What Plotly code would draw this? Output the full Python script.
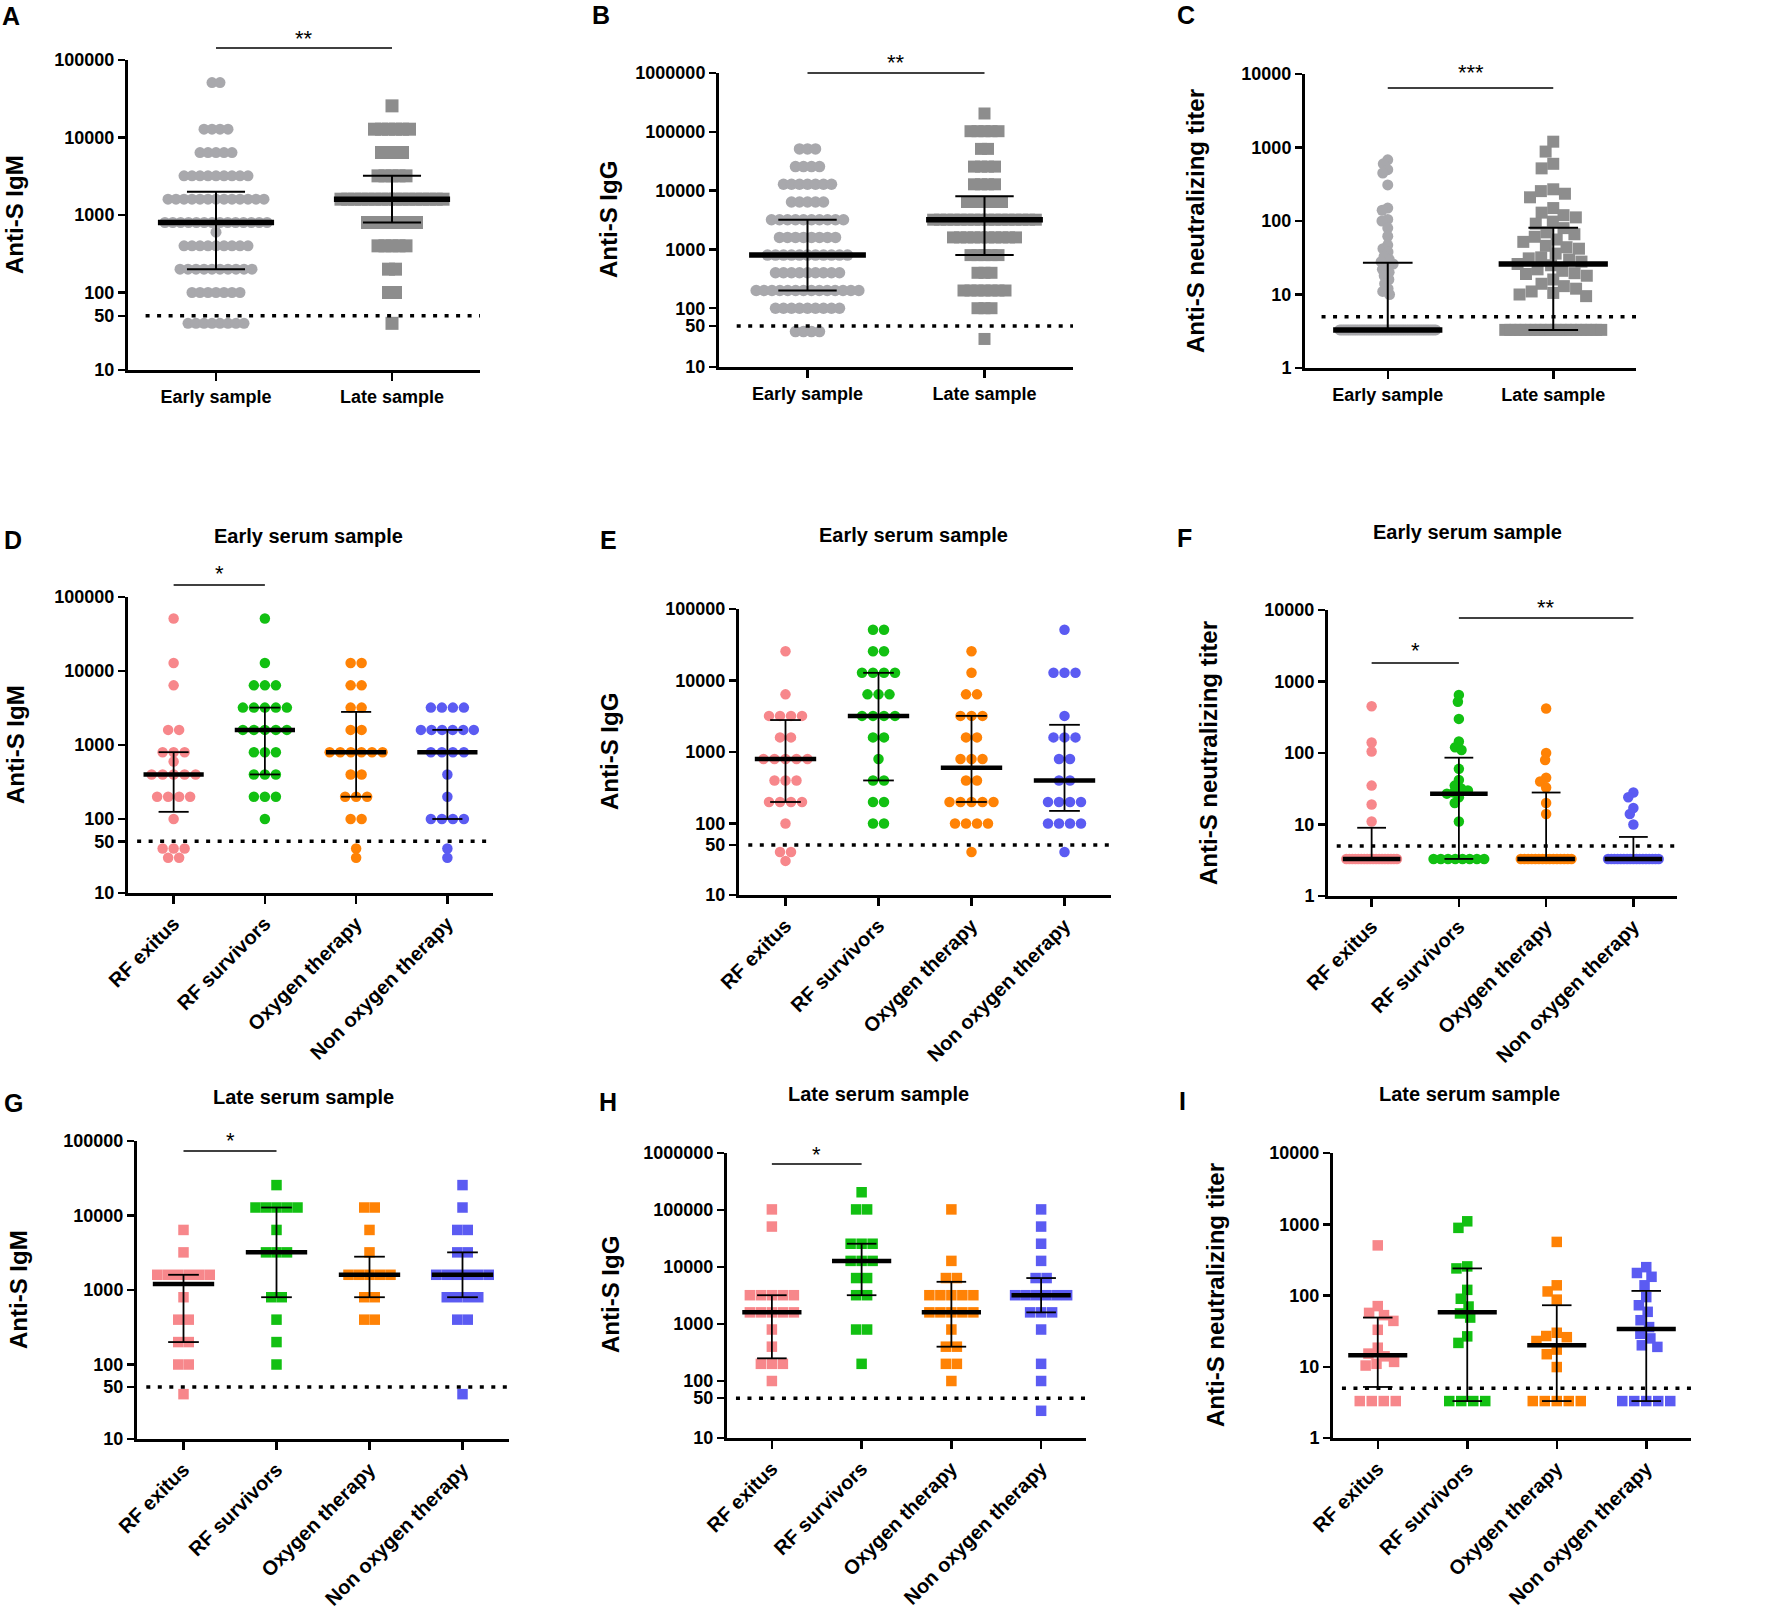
import numpy as np
import plotly.graph_objects as go

W, H = 1772, 1615
FONT = "Liberation Sans, Arial, sans-serif"

# ---------------------------------------------------------------- data
cats_AB = ["Early sample", "Late sample"]
cats_DI = ["RF exitus", "RF survivors", "Oxygen therapy", "Non oxygen therapy"]
BELOW = 3.3   # value plotted for titers below the limit of detection (<5)

# A: anti-S IgM, early vs late (frequency table over dilution levels)
A_levels = [51200, 25600, 12800, 6400, 3200, 1600, 800, 600, 400, 200, 100, 40]
A_early_counts = [2, 0, 4, 5, 9, 13, 14, 1, 9, 10, 7, 8]
A_late_counts = [0, 1, 6, 4, 5, 16, 8, 0, 5, 2, 2, 1]
A_median = [800, 1600]
A_q1 = [200, 800]
A_q3 = [2000, 3200]

# B: anti-S IgG, early vs late
B_levels = [204800, 102400, 51200, 25600, 12800, 6400, 3200, 1600, 800, 400, 200, 100, 40, 30]
B_early_counts = [0, 0, 3, 4, 7, 5, 10, 8, 11, 9, 14, 9, 4, 0]
B_late_counts = [1, 5, 2, 4, 4, 6, 16, 10, 5, 3, 7, 3, 0, 1]
B_median = [800, 3200]
B_q1 = [200, 800]
B_q3 = [3200, 8000]

# C: neutralizing titer, early vs late
C_early_values = [680, 600, 500, 450, 310, 150, 140, 105, 100, 80, 62, 47, 42, 38, 33,
                  30, 28, 26, 24, 22, 20, 18, 16, 14, 12, 11, 10]
C_early_below = 55
C_late_values = [1200, 880, 600, 520, 270, 255, 235, 210, 150, 130, 120, 112, 98, 92, 80,
                 70, 66, 61, 56, 52, 46, 44, 42, 36, 32, 31, 30, 28, 26, 25, 22, 21, 19.5,
                 19, 18, 16, 14, 13, 12, 11, 10.5, 10, 9.5]
C_late_below = 20
C_median = [3.3, 26]
C_q1 = [3.3, 3.3]
C_q3 = [27, 81]

# D: early IgM by group
D_levels = [51200, 12800, 6400, 3200, 1600, 800, 600, 400, 200, 100, 40, 30]
D_exitus = [1, 1, 1, 0, 2, 3, 1, 5, 4, 1, 3, 2]
D_survivors = [1, 1, 3, 5, 5, 3, 0, 3, 3, 1, 0, 0]
D_oxygen = [0, 2, 2, 2, 2, 6, 0, 2, 3, 2, 1, 1]
D_nonoxygen = [0, 0, 0, 4, 6, 4, 0, 1, 1, 4, 1, 1]
D_median = [400, 1600, 800, 800]
D_q1 = [125, 400, 200, 100]
D_q3 = [800, 3200, 2800, 1600]

# E: early IgG by group
E_levels = [51200, 25600, 12800, 6400, 3200, 1600, 800, 400, 200, 100, 40, 30]
E_exitus = [0, 1, 0, 1, 4, 2, 5, 3, 4, 1, 2, 1]
E_survivors = [2, 2, 4, 3, 4, 2, 1, 2, 2, 2, 0, 0]
E_oxygen = [0, 1, 1, 2, 3, 2, 3, 2, 5, 4, 1, 0]
E_nonoxygen = [1, 0, 3, 0, 1, 3, 2, 2, 4, 4, 1, 0]
E_median = [800, 3200, 600, 400]
E_q1 = [200, 400, 200, 150]
E_q3 = [2800, 12800, 3200, 2400]

# F: early neutralizing titer by group
F_exitus = [450, 140, 105, 35, 19, 11]
F_survivors = [650, 520, 300, 145, 120, 110, 60, 42, 35, 32, 30, 28, 27, 24, 20, 11]
F_oxygen = [420, 100, 80, 45, 40, 33, 20, 14]
F_nonoxygen = [28, 24, 17, 14, 10]
F_below = [18, 8, 15, 17]
F_median = [3.3, 27, 3.3, 3.3]
F_q1 = [3.3, 3.3, 3.3, 3.3]
F_q3 = [9, 86, 28, 6.7]

# G: late IgM by group
G_levels = [25600, 12800, 6400, 3200, 1600, 800, 400, 200, 100, 40]
G_exitus = [0, 0, 1, 1, 6, 1, 2, 2, 2, 1]
G_survivors = [1, 5, 1, 3, 0, 2, 1, 1, 1, 0]
G_oxygen = [0, 2, 1, 1, 5, 2, 2, 0, 0, 0]
G_nonoxygen = [1, 1, 2, 2, 6, 4, 2, 0, 0, 1]
G_median = [1200, 3200, 1600, 1600]
G_q1 = [200, 800, 800, 800]
G_q3 = [1600, 12800, 2800, 3200]

# H: late IgG by group
H_levels = [204800, 102400, 51200, 25600, 12800, 6400, 3200, 1600, 800, 400, 200, 100, 30]
H_exitus = [0, 1, 1, 0, 0, 0, 5, 5, 1, 1, 3, 1, 0]
H_survivors = [1, 2, 0, 3, 3, 2, 2, 0, 2, 0, 1, 0, 0]
H_oxygen = [0, 1, 0, 0, 1, 2, 5, 5, 1, 2, 2, 1, 0]
H_nonoxygen = [0, 1, 1, 1, 1, 2, 6, 3, 1, 0, 1, 1, 1]
H_median = [1600, 12800, 1600, 3200]
H_q1 = [250, 3200, 400, 1600]
H_q3 = [3200, 25600, 5500, 6400]

# I: late neutralizing titer by group
I_exitus = [505, 71, 57, 53, 44, 33, 18.5, 15.3, 14, 11.7, 11, 10.4]
I_survivors = [1100, 890, 256, 240, 120, 90, 70, 56, 49, 26.7, 21.6]
I_oxygen = [565, 139, 114, 87.5, 30, 27, 26, 23, 17.4, 15, 9.9]
I_nonoxygen = [250, 207, 183, 139, 95, 73, 59, 45, 36, 29, 25, 20, 19]
I_below = [4, 4, 5, 5]
I_median = [14.5, 58, 20, 34]
I_q1 = [5.2, 3.3, 3.3, 3.3]
I_q3 = [49, 240, 73, 116]

IGM_TICKS = [10, 50, 100, 1000, 10000, 100000]
IGG_TICKS = [10, 50, 100, 1000, 10000, 100000, 1000000]
NEUT_TICKS = [1, 10, 100, 1000, 10000]


def expand(levels, counts):
    return list(np.repeat(np.array(levels, float), counts))


def with_below(vals, n):
    return list(vals) + [BELOW] * n


# ---------------------------------------------------------------- styling
GREY_C = "#A8A8AC"
GREY_S = "#8D8D8D"
PINK, GREEN, ORANGE, BLUE = "#F7878B", "#12C012", "#FF8205", "#5B5BF2"
COLS4 = [PINK, GREEN, ORANGE, BLUE]


def swarm(vals, ppd, ppu, d_row, dmin, maxspan=0.58):
    vals = np.asarray(vals, float)
    ly = np.log10(vals) * ppd
    x = np.full(len(vals), np.nan)
    uniq, inv, cnt = np.unique(vals, return_inverse=True, return_counts=True)
    placed = []
    for k in range(len(uniq)):
        if cnt[k] > 1:
            idx = np.where(inv == k)[0]
            m = cnt[k]
            s = min(d_row, maxspan * ppu / (m - 1))
            offs = (np.arange(m) - (m - 1) / 2) * s
            x[idx] = offs
            placed += list(zip(offs, ly[idx]))
    singles = [i for i in range(len(vals)) if np.isnan(x[i])]
    singles.sort(key=lambda i: -vals[i])
    for i in singles:
        yi = ly[i]
        near = [(px, py) for px, py in placed if abs(py - yi) < dmin]
        cands = [0.0]
        for px, py in near:
            h = np.sqrt(max(dmin ** 2 - (py - yi) ** 2, 0))
            cands += [px - h, px + h]
        cands.sort(key=abs)
        for c in cands:
            if all((c - px) ** 2 + (yi - py) ** 2 >= dmin ** 2 - 1e-6 for px, py in near):
                x[i] = c
                break
        placed.append((x[i], yi))
    return x / ppu


panels = [
    dict(letter="A", box=(128, 480, 60, 370), yr=(1, 5), ticks=IGM_TICKS, cats=cats_AB,
         groups=[expand(A_levels, A_early_counts), expand(A_levels, A_late_counts)],
         med=A_median, q1=A_q1, q3=A_q3, thr=50,
         sym=["circle", "square"], size=[11, 13], col=[GREY_C, GREY_S],
         drow=[8, 7], dmin=[7, 10], cap=0.165, mw=5.5, ew=2,
         ytitle="Anti-S IgM", ytpos=(15, 215), title=None, lpos=(0, 16),
         angle=0, cfs=18, sig=[(0, 1, "**", 48, 32)]),
    dict(letter="B", box=(719, 1073, 73, 367), yr=(1, 6), ticks=IGG_TICKS, cats=cats_AB,
         groups=[expand(B_levels, B_early_counts), expand(B_levels, B_late_counts)],
         med=B_median, q1=B_q1, q3=B_q3, thr=50,
         sym=["circle", "square"], size=[11.5, 12], col=[GREY_C, GREY_S],
         drow=[8, 7], dmin=[7, 10], cap=0.165, mw=5.5, ew=2,
         ytitle="Anti-S IgG", ytpos=(608, 220), title=None, lpos=(590, 15),
         angle=0, cfs=18, sig=[(0, 1, "**", 73, 57)]),
    dict(letter="C", box=(1305, 1636, 74, 368), yr=(0, 4), ticks=NEUT_TICKS, cats=cats_AB,
         groups=[with_below(C_early_values, C_early_below), with_below(C_late_values, C_late_below)],
         med=C_median, q1=C_q1, q3=C_q3, thr=5,
         sym=["circle", "square"], size=[11, 12], col=[GREY_C, GREY_S],
         drow=[8, 7], dmin=[6, 12.5], cap=0.15, mw=5.5, ew=2,
         ytitle="Anti-S neutralizing titer", ytpos=(1196, 221), title=None, lpos=(1175, 15),
         angle=0, cfs=18, sig=[(0, 1, "***", 88, 67)]),
    dict(letter="D", box=(128, 493, 597, 893), yr=(1, 5), ticks=IGM_TICKS, cats=cats_DI,
         groups=[expand(D_levels, c) for c in (D_exitus, D_survivors, D_oxygen, D_nonoxygen)],
         med=D_median, q1=D_q1, q3=D_q3, thr=50,
         sym=["circle"] * 4, size=[10.5] * 4, col=COLS4,
         drow=[11] * 4, dmin=[9] * 4, cap=0.165, mw=4.5, ew=1.8,
         ytitle="Anti-S IgM", ytpos=(15, 745), title=("Early serum sample", 308, 536),
         lpos=(2, 540), angle=-45, cfs=20, sig=[(0, 1, "*", 585, 568)]),
    dict(letter="E", box=(739, 1111, 609, 895), yr=(1, 5), ticks=IGM_TICKS, cats=cats_DI,
         groups=[expand(E_levels, c) for c in (E_exitus, E_survivors, E_oxygen, E_nonoxygen)],
         med=E_median, q1=E_q1, q3=E_q3, thr=50,
         sym=["circle"] * 4, size=[10.5] * 4, col=COLS4,
         drow=[11] * 4, dmin=[9] * 4, cap=0.165, mw=4.5, ew=1.8,
         ytitle="Anti-S IgG", ytpos=(610, 752), title=("Early serum sample", 913, 535),
         lpos=(598, 540), angle=-45, cfs=20, sig=[]),
    dict(letter="F", box=(1328, 1677, 610, 896), yr=(0, 4), ticks=NEUT_TICKS, cats=cats_DI,
         groups=[with_below(v, n) for v, n in zip((F_exitus, F_survivors, F_oxygen, F_nonoxygen), F_below)],
         med=F_median, q1=F_q1, q3=F_q3, thr=5,
         sym=["circle"] * 4, size=[10.5] * 4, col=COLS4,
         drow=[11] * 4, dmin=[7] * 4, cap=0.165, mw=4.5, ew=1.8,
         ytitle="Anti-S neutralizing titer", ytpos=(1209, 753), title=("Early serum sample", 1467, 532),
         lpos=(1175, 538), angle=-45, cfs=20, sig=[(0, 1, "*", 663, 645), (1, 3, "**", 618, 601)]),
    dict(letter="G", box=(137, 509, 1141, 1439), yr=(1, 5), ticks=IGM_TICKS, cats=cats_DI,
         groups=[expand(G_levels, c) for c in (G_exitus, G_survivors, G_oxygen, G_nonoxygen)],
         med=G_median, q1=G_q1, q3=G_q3, thr=50,
         sym=["square"] * 4, size=[10.5] * 4, col=COLS4,
         drow=[10.5] * 4, dmin=[10] * 4, cap=0.165, mw=4.5, ew=1.8,
         ytitle="Anti-S IgM", ytpos=(18, 1290), title=("Late serum sample", 303, 1097),
         lpos=(2, 1103), angle=-45, cfs=20, sig=[(0, 1, "*", 1151, 1134)]),
    dict(letter="H", box=(727, 1086, 1153, 1438), yr=(1, 6), ticks=IGG_TICKS, cats=cats_DI,
         groups=[expand(H_levels, c) for c in (H_exitus, H_survivors, H_oxygen, H_nonoxygen)],
         med=H_median, q1=H_q1, q3=H_q3, thr=50,
         sym=["square"] * 4, size=[10.5] * 4, col=COLS4,
         drow=[11] * 4, dmin=[10] * 4, cap=0.165, mw=4.5, ew=1.8,
         ytitle="Anti-S IgG", ytpos=(610, 1295), title=("Late serum sample", 878, 1094),
         lpos=(597, 1102), angle=-45, cfs=20, sig=[(0, 1, "*", 1164, 1148)]),
    dict(letter="I", box=(1333, 1691, 1153, 1438), yr=(0, 4), ticks=NEUT_TICKS, cats=cats_DI,
         groups=[with_below(v, n) for v, n in zip((I_exitus, I_survivors, I_oxygen, I_nonoxygen), I_below)],
         med=I_median, q1=I_q1, q3=I_q3, thr=5,
         sym=["square"] * 4, size=[10.5] * 4, col=COLS4,
         drow=[12] * 4, dmin=[11] * 4, cap=0.165, mw=4.5, ew=1.8,
         ytitle="Anti-S neutralizing titer", ytpos=(1215, 1295), title=("Late serum sample", 1469, 1094),
         lpos=(1177, 1101), angle=-45, cfs=20, sig=[]),
]

fig = go.Figure()
annotations = []
shapes = []
layout_axes = {}


def fmt_tick(v):
    return str(int(v))


for k, P in enumerate(panels, start=1):
    sfx = "" if k == 1 else str(k)
    xa, ya = "x" + sfx, "y" + sfx
    L, R, T, B = P["box"]
    n = len(P["cats"])
    ppu = (R - L) / n
    lo, hi = P["yr"]
    ppd = (B - T) / (hi - lo)

    for g, vals in enumerate(P["groups"]):
        offs = swarm(vals, ppd, ppu, P["drow"][g], P["dmin"][g])
        fig.add_trace(go.Scatter(
            x=g + offs, y=vals, mode="markers", xaxis=xa, yaxis=ya,
            marker=dict(symbol=P["sym"][g], size=P["size"][g], color=P["col"][g], line=dict(width=0)),
            cliponaxis=False, showlegend=False, hoverinfo="skip"))

    # threshold dotted line
    fig.add_trace(go.Scatter(x=[-0.4, n - 0.5], y=[P["thr"], P["thr"]], mode="lines",
                             xaxis=xa, yaxis=ya, line=dict(color="black", width=3.5, dash="4px,7.5px"),
                             showlegend=False, hoverinfo="skip"))

    # interquartile whiskers
    ex, ey = [], []
    c = P["cap"]
    for g in range(n):
        ex += [g - c, g + c, None, g, g, None, g - c, g + c, None]
        ey += [P["q3"][g], P["q3"][g], None, P["q1"][g], P["q3"][g], None, P["q1"][g], P["q1"][g], None]
    fig.add_trace(go.Scatter(x=ex, y=ey, mode="lines", xaxis=xa, yaxis=ya,
                             line=dict(color="black", width=P["ew"]), showlegend=False, hoverinfo="skip"))
    # medians
    mx, my = [], []
    for g in range(n):
        mx += [g - 0.33, g + 0.33, None]
        my += [P["med"][g], P["med"][g], None]
    fig.add_trace(go.Scatter(x=mx, y=my, mode="lines", xaxis=xa, yaxis=ya,
                             line=dict(color="black", width=P["mw"]), showlegend=False, hoverinfo="skip"))

    layout_axes["xaxis" + sfx] = dict(
        domain=[L / W, R / W], anchor=ya, range=[-0.5, n - 0.5],
        tickmode="array", tickvals=list(range(n)), ticktext=P["cats"], tickangle=P["angle"],
        ticks="outside", ticklen=8, tickwidth=2.5, tickcolor="black",
        showline=True, linewidth=3, linecolor="black", showgrid=False, zeroline=False,
        automargin=False, fixedrange=True,
        tickfont=dict(family=FONT, size=P["cfs"], color="black", weight="bold"))
    layout_axes["yaxis" + sfx] = dict(
        domain=[1 - B / H, 1 - T / H], anchor=xa, type="log", range=[lo, hi],
        tickmode="array", tickvals=P["ticks"], ticktext=[fmt_tick(v) for v in P["ticks"]],
        ticks="outside", ticklen=7, tickwidth=2.5, tickcolor="black",
        showline=True, linewidth=3, linecolor="black", showgrid=False, zeroline=False,
        automargin=False, fixedrange=True,
        tickfont=dict(family=FONT, size=18, color="black", weight="bold"))

    # panel letter
    annotations.append(dict(text=P["letter"], xref="paper", yref="paper",
                            x=P["lpos"][0] / W, y=1 - P["lpos"][1] / H, xanchor="left", yanchor="middle",
                            showarrow=False, font=dict(family=FONT, size=25, color="black", weight="bold")))
    # y title
    annotations.append(dict(text=P["ytitle"], xref="paper", yref="paper", textangle=-90,
                            x=P["ytpos"][0] / W, y=1 - P["ytpos"][1] / H, xanchor="center", yanchor="middle",
                            showarrow=False, font=dict(family=FONT, size=24, color="black", weight="bold")))
    if P["title"]:
        t, tx, ty = P["title"]
        annotations.append(dict(text=t, xref="paper", yref="paper", x=tx / W, y=1 - ty / H,
                                xanchor="center", yanchor="middle", showarrow=False,
                                font=dict(family=FONT, size=20, color="black", weight="bold")))
    for (g0, g1, lab, ly_px, ay_px) in P["sig"]:
        shapes.append(dict(type="line", xref=xa, yref="paper", x0=g0, x1=g1,
                           y0=1 - ly_px / H, y1=1 - ly_px / H, line=dict(color="black", width=1.5)))
        annotations.append(dict(text=lab, xref=xa, yref="paper", x=(g0 + g1) / 2, y=1 - (ay_px + 6) / H,
                                xanchor="center", yanchor="middle", showarrow=False,
                                font=dict(family=FONT, size=22, color="black")))

fig.update_layout(width=W, height=H, margin=dict(l=0, r=0, t=0, b=0), template="none",
                  plot_bgcolor="white", paper_bgcolor="white", showlegend=False,
                  annotations=annotations, shapes=shapes, **layout_axes)

fig.write_html("out.html", config={"displayModeBar": False, "staticPlot": True},
               post_script="document.body.style.margin='0';document.body.style.overflow='hidden';")
